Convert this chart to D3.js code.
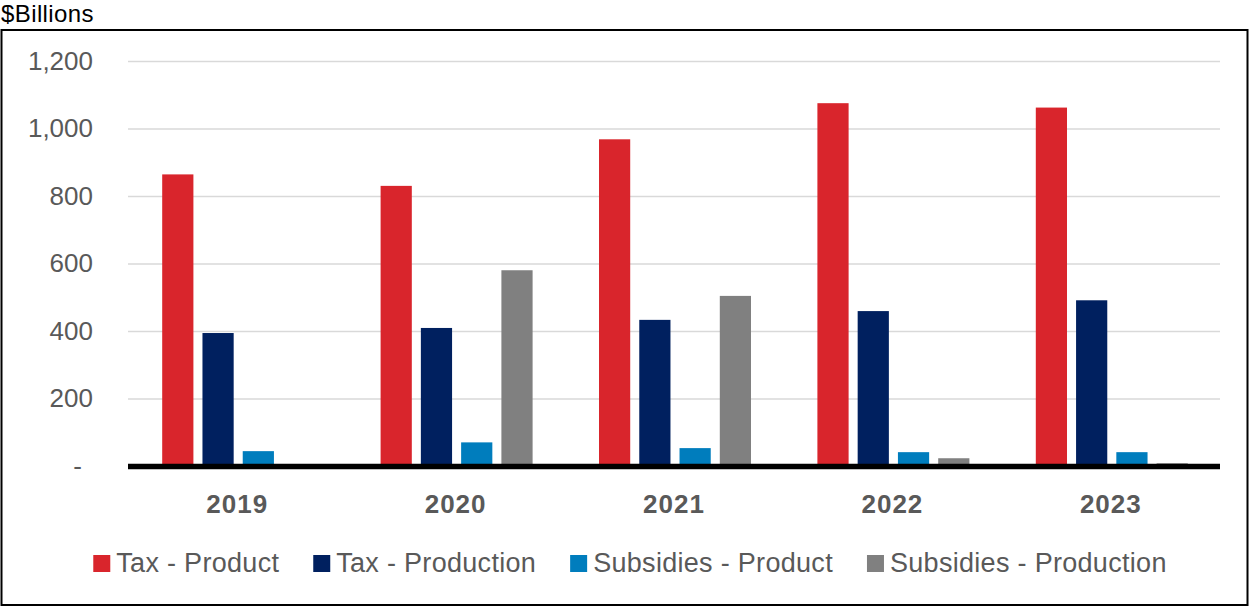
<!DOCTYPE html>
<html>
<head>
<meta charset="utf-8">
<script src="https://cdn.jsdelivr.net/npm/d3@7"></script>
<style>
  body { margin: 0; background: #fff; }
  svg { display: block; font-family: "Liberation Sans", Arial, sans-serif; }
</style>
</head>
<body>
<div class="chart"></div>
<script>
// values, $ billions
var years = ["2019", "2020", "2021", "2022", "2023"];
var series = ["Tax - Product", "Tax - Production", "Subsidies - Product", "Subsidies - Production"];
var taxProduct = [864, 830, 968, 1075, 1062];
var taxProduction = [394, 409, 433, 459, 491];
var subProduct = [44, 70, 53, 41, 41];
var subProduction = [0, 580, 504, 23, 8];
var yTicks = [0, 200, 400, 600, 800, 1000, 1200];
var colors = ["#d9252c", "#00205f", "#007dbd", "#808080"];

var values = [taxProduct, taxProduction, subProduct, subProduction];

var W = 1250, H = 608;
var plotLeft = 128, plotRight = 1220, plotTop = 61, base = 466;

var svg = d3.select(".chart").append("svg")
    .attr("width", W)
    .attr("height", H);

// outer frame
svg.append("rect")
    .attr("x", 1.5).attr("y", 30)
    .attr("width", 1246).attr("height", 575)
    .attr("fill", "none")
    .attr("stroke", "#000")
    .attr("stroke-width", 2);

svg.append("text")
    .attr("x", 1).attr("y", 22)
    .attr("font-size", 24)
    .attr("letter-spacing", 0.4)
    .attr("fill", "#000")
    .text("$Billions");

var x0 = d3.scaleBand().domain(years).range([plotLeft, plotRight]);
var groupW = 152;
var x1 = d3.scaleBand().domain(series)
    .range([(x0.bandwidth() - groupW) / 2 + 1, (x0.bandwidth() + groupW) / 2 + 1])
    .paddingInner(0.225);
var y = d3.scaleLinear().domain([0, 1200]).range([base, plotTop]);

// gridlines + tick labels
var yAxis = svg.append("g")
    .attr("transform", "translate(" + plotLeft + ",0)")
    .call(d3.axisLeft(y)
      .tickValues(yTicks)
      .tickSize(-(plotRight - plotLeft))
      .tickPadding(35)
      .tickFormat(function(d) { return d === 0 ? "-" : d3.format(",")(d); }));
yAxis.select(".domain").remove();
yAxis.selectAll("line").attr("stroke", "#d9d9d9").attr("stroke-width", 1.5);
yAxis.selectAll("text")
    .attr("font-size", 26)
    .attr("fill", "#595959")
    .attr("font-family", "Liberation Sans, Arial, sans-serif")
    .attr("dx", function(d) { return d === 0 ? -11 : 0; });

// bars
var groups = svg.selectAll("g.year")
    .data(years)
  .enter().append("g")
    .attr("class", "year")
    .attr("transform", function(d) { return "translate(" + x0(d) + ",0)"; });

groups.selectAll("rect")
    .data(function(d, i) {
      return series.map(function(s, j) { return {s: s, v: values[j][i], c: colors[j]}; });
    })
  .enter().append("rect")
    .attr("x", function(d) { return x1(d.s); })
    .attr("width", x1.bandwidth())
    .attr("y", function(d) { return y(d.v); })
    .attr("height", function(d) { return base - y(d.v); })
    .attr("fill", function(d) { return d.c; });

// baseline
svg.append("line")
    .attr("x1", plotLeft).attr("x2", plotRight)
    .attr("y1", base + 0.5).attr("y2", base + 0.5)
    .attr("stroke", "#000")
    .attr("stroke-width", 5.5);

// year labels
svg.selectAll("text.yr")
    .data(years)
  .enter().append("text")
    .attr("class", "yr")
    .attr("x", function(d) { return x0(d) + x0.bandwidth() / 2; })
    .attr("y", 513)
    .attr("text-anchor", "middle")
    .attr("font-size", 26)
    .attr("letter-spacing", 1)
    .attr("font-weight", "bold")
    .attr("fill", "#595959")
    .text(function(d) { return d; });

// legend
var legend = svg.append("g");
var items = legend.selectAll("g")
    .data(series)
  .enter().append("g");
items.append("rect")
    .attr("width", 17).attr("height", 17)
    .attr("y", 555)
    .attr("fill", function(d, i) { return colors[i]; });
items.append("text")
    .attr("x", 23)
    .attr("y", 572)
    .attr("font-size", 27)
    .attr("letter-spacing", 0.3)
    .attr("fill", "#595959")
    .text(function(d) { return d; });

var gap = 34;
var pos = 0, offs = [];
items.each(function() {
  offs.push(pos);
  pos += 23 + this.querySelector("text").getComputedTextLength() + gap;
});
var total = pos - gap;
var start = 630 - total / 2;
items.attr("transform", function(d, i) { return "translate(" + (start + offs[i]) + ",0)"; });
</script>
</body>
</html>
